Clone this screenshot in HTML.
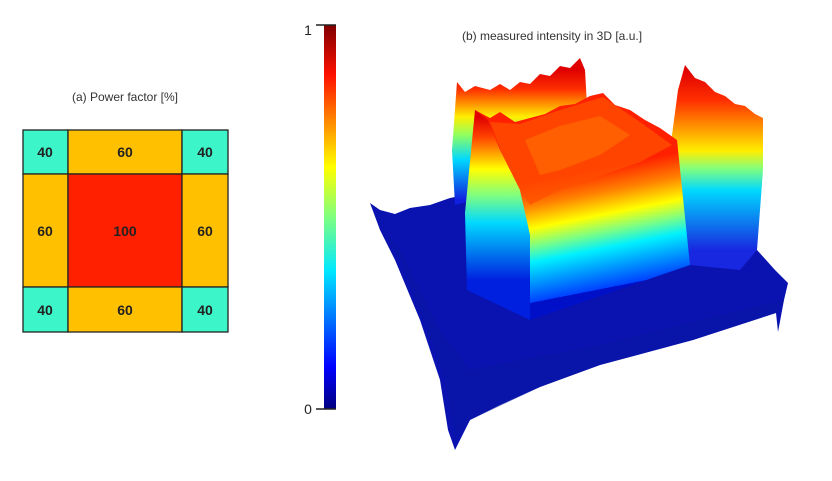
<!DOCTYPE html>
<html><head><meta charset="utf-8"><style>
body{margin:0;background:#fff;width:832px;height:476px;overflow:hidden;font-family:"Liberation Sans",sans-serif}
</style></head><body>
<svg width="832" height="476" viewBox="0 0 832 476" xmlns="http://www.w3.org/2000/svg">
<defs>
<linearGradient id="cb" x1="0" y1="1" x2="0" y2="0">
<stop offset="0" stop-color="#00007f"/><stop offset="0.11" stop-color="#0000ff"/><stop offset="0.36" stop-color="#00e8ff"/><stop offset="0.5" stop-color="#7fff7f"/><stop offset="0.63" stop-color="#ffff00"/><stop offset="0.87" stop-color="#ff1000"/><stop offset="1" stop-color="#800000"/>
</linearGradient>
<linearGradient id="wl" gradientUnits="userSpaceOnUse" x1="0" y1="200" x2="0" y2="70">
<stop offset="0" stop-color="#1020e0"/><stop offset="0.31" stop-color="#00d8ff"/><stop offset="0.5" stop-color="#90ff60"/><stop offset="0.64" stop-color="#ffee00"/><stop offset="0.85" stop-color="#ff3000"/><stop offset="1" stop-color="#e00000"/>
</linearGradient>
<linearGradient id="wr" gradientUnits="userSpaceOnUse" x1="0" y1="250" x2="0" y2="70">
<stop offset="0" stop-color="#1828e0"/><stop offset="0.33" stop-color="#00d8ff"/><stop offset="0.45" stop-color="#80ff80"/><stop offset="0.55" stop-color="#ffee00"/><stop offset="0.83" stop-color="#ff3000"/><stop offset="1" stop-color="#e00000"/>
</linearGradient>
<linearGradient id="bf" gradientUnits="userSpaceOnUse" x1="530" y1="303" x2="507" y2="186">
<stop offset="-0.2" stop-color="#0010c8"/><stop offset="0" stop-color="#0040ff"/><stop offset="0.33" stop-color="#00f0ff"/><stop offset="0.47" stop-color="#80ff80"/><stop offset="0.61" stop-color="#ffff00"/><stop offset="0.8" stop-color="#ff8000"/><stop offset="1" stop-color="#ff2000"/>
</linearGradient>
<linearGradient id="bl" gradientUnits="userSpaceOnUse" x1="0" y1="280" x2="0" y2="117">
<stop offset="0" stop-color="#0020e0"/><stop offset="0.35" stop-color="#00d8ff"/><stop offset="0.52" stop-color="#80ff80"/><stop offset="0.68" stop-color="#ffff00"/><stop offset="0.88" stop-color="#ff4000"/><stop offset="1" stop-color="#e00000"/>
</linearGradient>
</defs>
<text x="125" y="101" font-size="12" text-anchor="middle" fill="#333">(a) Power factor [%]</text>
<g stroke="#222" stroke-width="1.3">
<rect x="23" y="130" width="45" height="44" fill="#3cf5c8"/>
<rect x="68" y="130" width="114" height="44" fill="#ffc000"/>
<rect x="182" y="130" width="46" height="44" fill="#3cf5c8"/>
<rect x="23" y="174" width="45" height="113" fill="#ffc000"/>
<rect x="68" y="174" width="114" height="113" fill="#ff2000"/>
<rect x="182" y="174" width="46" height="113" fill="#ffc000"/>
<rect x="23" y="287" width="45" height="45" fill="#3cf5c8"/>
<rect x="68" y="287" width="114" height="45" fill="#ffc000"/>
<rect x="182" y="287" width="46" height="45" fill="#3cf5c8"/>
</g>
<g font-size="14" font-weight="bold" fill="#222" text-anchor="middle">
<text x="45" y="157">40</text><text x="125" y="157">60</text><text x="205" y="157">40</text>
<text x="45" y="236">60</text><text x="125" y="236">100</text><text x="205" y="236">60</text>
<text x="45" y="315">40</text><text x="125" y="315">60</text><text x="205" y="315">40</text>
</g>
<rect x="324" y="25" width="12" height="384" fill="url(#cb)"/>
<line x1="316" y1="25" x2="336" y2="25" stroke="#222" stroke-width="1.5"/>
<line x1="316" y1="409" x2="336" y2="409" stroke="#222" stroke-width="1.5"/>
<text x="308" y="35" font-size="14" text-anchor="middle" fill="#222">1</text>
<text x="308" y="414" font-size="14" text-anchor="middle" fill="#222">0</text>
<text x="552" y="40" font-size="12" text-anchor="middle" fill="#333">(b) measured intensity in 3D [a.u.]</text>
<!-- floor -->
<polygon points="370,203 380,210 395,214 410,208 430,205 450,198 465,195 590,110 690,150 757,250 775,270 788,283 784,300 778,332 776,313 693,340 600,365 540,387 500,405 470,420 455,450 448,430 440,380 420,320 395,260 380,230" fill="#0a12b0"/>
<polygon points="380,225 400,260 420,310 445,380 455,440 470,420 540,387 600,365 693,340 776,313 784,300 700,320 600,345 520,360 470,370 440,330 400,250" fill="#0816a0" opacity="0.5"/>
<!-- back left wall -->
<polygon points="457,82 465,92 475,86 490,90 500,84 510,90 520,82 530,84 540,74 550,76 560,66 570,68 580,58 585,70 587,105 585,170 455,205 452,150" fill="url(#wl)"/>
<!-- right ridge -->
<polygon points="685,65 695,78 705,82 715,92 725,96 735,104 745,106 755,114 763,118 763,170 757,250 740,270 690,265 670,150 678,90" fill="url(#wr)"/>
<!-- block front+top -->
<polygon points="475,110 490,118 500,112 515,122 530,118 545,114 560,106 575,104 590,96 603,93 615,105 630,110 645,120 660,128 677,140 690,265 530,320" fill="url(#bf)"/>
<polygon points="490,122 520,124 560,110 603,97 640,122 672,145 640,162 600,176 560,190 530,205 510,175" fill="#ff5000" opacity="0.75"/>
<polygon points="525,140 560,126 600,116 630,135 600,155 560,170 540,175" fill="#ff8a00" opacity="0.4"/>
<!-- block left face -->
<polygon points="475,110 488,120 500,150 520,190 530,235 530,320 467,290 465,213" fill="url(#bl)"/>
</svg>
</body></html>
